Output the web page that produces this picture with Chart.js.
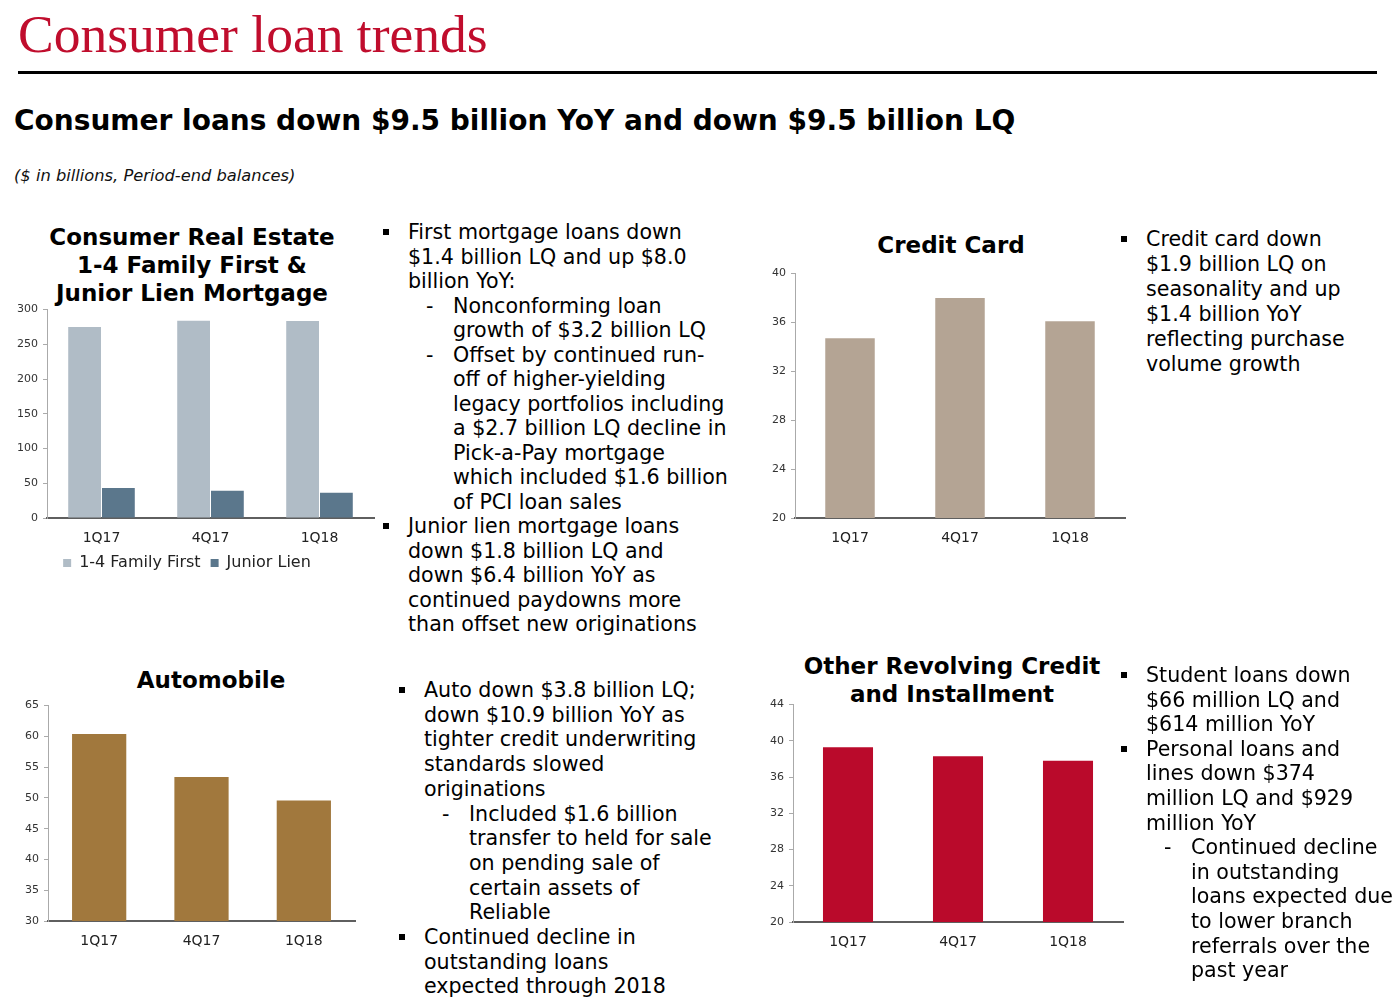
<!DOCTYPE html>
<html>
<head>
<meta charset="utf-8">
<script src="https://cdn.jsdelivr.net/npm/chart.js@4.4.0/dist/chart.umd.min.js"></script>
<style>
    body {
        margin: 0;
        width: 1397px;
        height: 1003px;
        position: relative;
        overflow: hidden;
        background: #fff;
        font-family: "DejaVu Sans", Verdana, sans-serif;
        color: #000;
    }
    .abs { position: absolute; white-space: nowrap; }
    .head {
        left: 18px; top: 3px;
        font-family: "Liberation Serif", serif;
        font-size: 53.5px; color: #c00d2d;
    }
    .rule { left: 18px; top: 71px; width: 1359px; height: 3px; background: #000; }
    .sub { left: 14px; top: 104px; font-size: 28px; line-height: 34px; font-weight: bold; }
    .note { left: 14px; top: 166px; font-size: 16.3px; line-height: 20px; font-style: italic; color: #111; }
    .ctitle {
        font-size: 23px; font-weight: bold; text-align: center;
        line-height: 28px; transform: translateX(-50%);
    }
    .line { font-size: 20.6px; line-height: 24px; }
    .sq { position: absolute; width: 6px; height: 6px; background: #000; }
    canvas { position: absolute; }
</style>
</head>
<body>

<div class="abs head">Consumer loan trends</div>
<div class="abs rule"></div>
<div class="abs sub">Consumer loans down $9.5 billion YoY and down $9.5 billion LQ</div>
<div class="abs note">($ in billions, Period-end balances)</div>

<div class="abs ctitle" style="left:192px; top:223px;">Consumer Real Estate<br>1-4 Family First &amp;<br>Junior Lien Mortgage</div>
<div class="abs ctitle" style="left:951px; top:231px;">Credit Card</div>
<div class="abs ctitle" style="left:211px; top:666px;">Automobile</div>
<div class="abs ctitle" style="left:952px; top:652px;">Other Revolving Credit<br>and Installment</div>

<div style="position:absolute; left:0; top:298px; width:381px; height:283px;"><canvas id="mortgageChart"></canvas></div>
<div style="position:absolute; left:760px; top:262px; width:372px; height:286px;"><canvas id="cardChart"></canvas></div>
<div style="position:absolute; left:0; top:694px; width:362px; height:257px;"><canvas id="autoChart"></canvas></div>
<div style="position:absolute; left:755px; top:693px; width:375px; height:259px;"><canvas id="otherChart"></canvas></div>

<script>
// Chart data ($ billions)
const quarters = ['1Q17', '4Q17', '1Q18'];
const familyFirst = [275.1, 284.1, 283.7];
const juniorLien = [43.1, 39.3, 36.5];
const creditCard = [34.7, 38.0, 36.1];
const automobile = [60.4, 53.4, 49.6];
const otherRevolving = [39.3, 38.3, 37.8];

// Bullet text (level 0 = square bullet, level 1 = dash)
const mortgageNotes = [
    [0, ['First mortgage loans down', '$1.4 billion LQ and up $8.0', 'billion YoY:']],
    [1, ['Nonconforming loan', 'growth of $3.2 billion LQ']],
    [1, ['Offset by continued run-', 'off of higher-yielding', 'legacy portfolios including', 'a $2.7 billion LQ decline in', 'Pick-a-Pay mortgage', 'which included $1.6 billion', 'of PCI loan sales']],
    [0, ['Junior lien mortgage loans', 'down $1.8 billion LQ and', 'down $6.4 billion YoY as', 'continued paydowns more', 'than offset new originations']]
];
const cardNotes = [
    [0, ['Credit card down', '$1.9 billion LQ on', 'seasonality and up', '$1.4 billion YoY', 'reflecting purchase', 'volume growth']]
];
const autoNotes = [
    [0, ['Auto down $3.8 billion LQ;', 'down $10.9 billion YoY as', 'tighter credit underwriting', 'standards slowed', 'originations']],
    [1, ['Included $1.6 billion', 'transfer to held for sale', 'on pending sale of', 'certain assets of', 'Reliable']],
    [0, ['Continued decline in', 'outstanding loans', 'expected through 2018']]
];
const otherNotes = [
    [0, ['Student loans down', '$66 million LQ and', '$614 million YoY']],
    [0, ['Personal loans and', 'lines down $374', 'million LQ and $929', 'million YoY']],
    [1, ['Continued decline', 'in outstanding', 'loans expected due', 'to lower branch', 'referrals over the', 'past year']]
];

function drawNotes(notes, bulletX, firstY, lineH) {
    let row = 0;
    notes.forEach(([level, lines]) => {
        const y0 = firstY + row * lineH;
        if (level === 0) {
            const sq = document.createElement('div');
            sq.className = 'sq';
            sq.style.left = bulletX + 'px';
            sq.style.top = (y0 - 3) + 'px';
            document.body.appendChild(sq);
        } else {
            const dash = document.createElement('div');
            dash.className = 'abs line';
            dash.textContent = '-';
            dash.style.left = (bulletX + 43) + 'px';
            dash.style.top = (y0 - 12) + 'px';
            document.body.appendChild(dash);
        }
        const textX = bulletX + (level === 0 ? 25 : 70);
        lines.forEach(txt => {
            const el = document.createElement('div');
            el.className = 'abs line';
            el.textContent = txt;
            el.style.left = textX + 'px';
            el.style.top = (firstY + row * lineH - 12) + 'px';
            document.body.appendChild(el);
            row++;
        });
    });
}

drawNotes(mortgageNotes, 383, 232, 24.5);
drawNotes(cardNotes, 1121, 239, 25);
drawNotes(autoNotes, 399, 690, 24.7);
drawNotes(otherNotes, 1121, 675, 24.6);

Chart.defaults.font.family = '"DejaVu Sans", Verdana, sans-serif';
Chart.defaults.color = '#222';

function barChart(id, datasets, yMin, yMax, yStep, g) {
    return new Chart(document.getElementById(id), {
        type: 'bar',
        data: { labels: quarters, datasets: datasets },
        options: {
            responsive: true,
            maintainAspectRatio: false,
            animation: false,
            layout: { padding: { left: 0, top: g.padTop, right: g.padRight, bottom: 0 } },
            plugins: {
                tooltip: { enabled: false },
                legend: {
                    display: !!g.legend,
                    position: 'bottom',
                    labels: { boxWidth: 8, boxHeight: 8, padding: 10, font: { size: 16 }, color: '#222' }
                }
            },
            scales: {
                x: {
                    grid: { display: false, drawTicks: false },
                    border: { display: true, color: '#5f5f5f', width: 2 },
                    ticks: { font: { size: 14 }, color: '#222', padding: 12 },
                    afterFit: s => { s.height = g.xHeight; }
                },
                y: {
                    min: yMin,
                    max: yMax,
                    ticks: { stepSize: yStep, font: { size: 11 }, color: '#333', padding: 5 },
                    grid: { drawOnChartArea: false, drawTicks: true, tickLength: 4, color: '#aaaaaa' },
                    border: { display: true, color: '#aaaaaa', width: 1 },
                    afterFit: s => { s.width = g.yWidth; }
                }
            }
        }
    });
}

barChart('mortgageChart', [
    { label: '1-4 Family First', data: familyFirst, backgroundColor: '#b0bcc6', barPercentage: 0.97, categoryPercentage: 0.62 },
    { label: 'Junior Lien', data: juniorLien, backgroundColor: '#5b778c', barPercentage: 0.97, categoryPercentage: 0.62 }
], 0, 300, 50, { yWidth: 47, padTop: 7, padRight: 7, xHeight: 27, legend: true });

barChart('cardChart', [
    { label: 'Credit Card', data: creditCard, backgroundColor: '#b4a494', barPercentage: 0.45, categoryPercentage: 1 }
], 20, 40, 4, { yWidth: 35, padTop: 10, padRight: 7, xHeight: 30 });

barChart('autoChart', [
    { label: 'Automobile', data: automobile, backgroundColor: '#a1783d', barPercentage: 0.53, categoryPercentage: 1 }
], 30, 65, 5, { yWidth: 48, padTop: 9, padRight: 7, xHeight: 30 });

barChart('otherChart', [
    { label: 'Other Revolving Credit and Installment', data: otherRevolving, backgroundColor: '#ba0a2b', barPercentage: 0.455, categoryPercentage: 1 }
], 20, 44, 4, { yWidth: 38, padTop: 10, padRight: 7, xHeight: 30 });
</script>
</body>
</html>
